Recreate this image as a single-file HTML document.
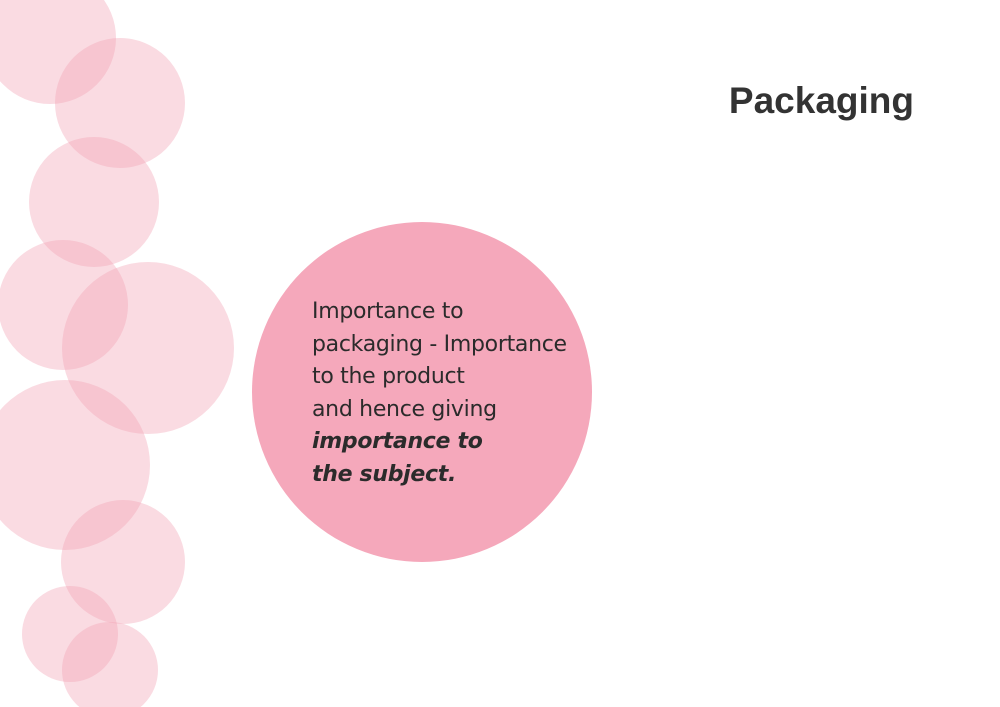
<!DOCTYPE html>
<html><head><meta charset="utf-8"><style>
html,body{margin:0;padding:0;background:#fff;}
.page{position:relative;width:1000px;height:707px;overflow:hidden;background:#fff;font-family:"DejaVu Sans","Liberation Sans",sans-serif;}
.c{position:absolute;border-radius:50%;background:rgba(242,160,180,0.38);}
.main{position:absolute;left:252px;top:222px;width:340px;height:340px;border-radius:50%;background:#f5a8bb;}
.txt{position:absolute;left:312px;top:296px;font-size:22px;line-height:32.5px;color:#2b2b2b;letter-spacing:-0.3px;}
.title{position:absolute;right:86px;top:80px;font-size:37px;font-weight:bold;color:#333;font-family:"Liberation Sans",sans-serif;}
</style></head><body><div class="page">
<div class="c" style="left:-16px;top:-28px;width:132px;height:132px"></div>
<div class="c" style="left:55px;top:38px;width:130px;height:130px"></div>
<div class="c" style="left:29px;top:137px;width:130px;height:130px"></div>
<div class="c" style="left:-2px;top:240px;width:130px;height:130px"></div>
<div class="c" style="left:62px;top:262px;width:172px;height:172px"></div>
<div class="c" style="left:-20px;top:380px;width:170px;height:170px"></div>
<div class="c" style="left:61px;top:500px;width:124px;height:124px"></div>
<div class="c" style="left:22px;top:586px;width:96px;height:96px"></div>
<div class="c" style="left:62px;top:622px;width:96px;height:96px"></div>
<div class="main"></div>
<div class="txt">Importance to<br>packaging - Importance<br>to the product<br>and hence giving<br><b><i>importance to<br>the subject.</i></b></div>
<div class="title">Packaging</div>
</div></body></html>
